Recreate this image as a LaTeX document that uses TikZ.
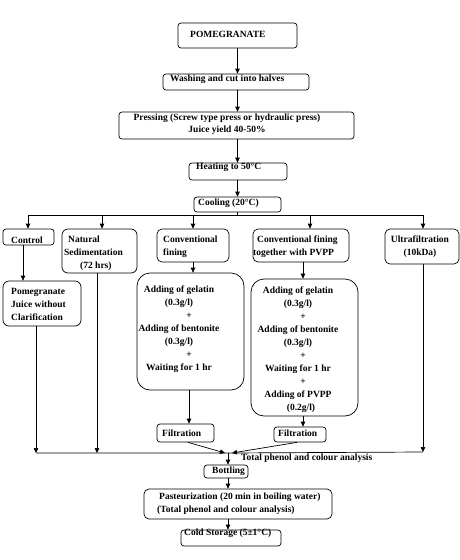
\documentclass[tikz,border=0pt]{standalone}
\usepackage{fontspec}
\setmainfont{Liberation Serif}
\usetikzlibrary{arrows.meta}
\begin{document}
\begin{tikzpicture}[x=1pt,y=-1pt,
 box/.style={draw, line width=0.7pt, rounded corners=3pt, inner sep=0pt},
 bigbox/.style={box, rounded corners=13pt},
 txt/.style={inner sep=0pt, font=\bfseries\fontsize{9.5}{13}\selectfont},
 arr/.style={line width=0.7pt, -{Triangle[length=5pt,width=4.5pt]}},
 ln/.style={line width=0.7pt}]
\useasboundingbox (0,0) rectangle (460,560);
% boxes
\node[box, minimum width=119pt, minimum height=25pt] (pom) at (237.5,35.5) {};
\node[box, minimum width=146pt, minimum height=16pt] (wash) at (236,82) {};
\node[box, minimum width=235pt, minimum height=27pt] (press) at (236.5,125.5) {};
\node[box, minimum width=98pt, minimum height=17pt] (heat) at (238,171.5) {};
\node[box, minimum width=87pt, minimum height=15pt] (cool) at (237.5,204.5) {};
\node[box, minimum width=51pt, minimum height=16pt] (ctrl) at (28.5,237) {};
\node[box, minimum width=75pt, minimum height=44pt, rounded corners=6pt] (nat) at (99.5,251) {};
\node[box, minimum width=72pt, minimum height=33pt, rounded corners=5pt] (conv) at (193,245.5) {};
\node[box, minimum width=96pt, minimum height=33pt, rounded corners=5pt] (pvpp) at (301,245.5) {};
\node[box, minimum width=74pt, minimum height=35pt, rounded corners=5pt] (ultra) at (422,246.5) {};
\node[box, minimum width=78pt, minimum height=45pt, rounded corners=6pt] (pj) at (42,303.5) {};
\node[bigbox, minimum width=107pt, minimum height=117pt] (big1) at (190.5,331.5) {};
\node[bigbox, minimum width=107pt, minimum height=137pt] (big2) at (304.5,347.5) {};
\node[box, minimum width=57pt, minimum height=18pt] (filt1) at (185.5,433) {};
\node[box, minimum width=52pt, minimum height=15pt] (filt2) at (300,434.5) {};
\node[box, minimum width=44pt, minimum height=13pt] (bott) at (226,471.5) {};
\node[box, minimum width=188pt, minimum height=30pt, rounded corners=5pt] (past) at (238,504) {};
\node[box, minimum width=100pt, minimum height=16pt] (cold) at (231,538) {};
% texts
\node[txt, anchor=west] (tpom) at (190,34) {POMEGRANATE};
\node[txt, anchor=west] (twash) at (170,79) {Washing and cut into halves};
\node[txt, align=center] (tpress) at (227,124) {Pressing (Screw type press or hydraulic press)\\[-1pt]Juice yield 40-50\%};
\node[txt, anchor=west] (theat) at (196,167) {Heating to 50°C};
\node[txt, anchor=west] (tcool) at (198,203) {Cooling (20°C)};
\node[txt, anchor=west] (tctrl) at (11,240) {Control};
\node[txt, anchor=west, align=left] (tnat) at (64,253) {\hspace{4pt}Natural\\Sedimentation\\\hspace{16pt}(72 hrs)};
\node[txt, anchor=west, align=left] (tconv) at (163,246.5) {Conventional\\fining};
\node[txt, anchor=west, align=left] (tpvpp) at (253,246.5) {\hspace{4pt}Conventional fining\\together with PVPP};
\node[txt, align=center] (tultra) at (420,246.5) {Ultrafiltration\\(10kDa)};
\node[txt, anchor=west, align=left] (tpj) at (11,304) {Pomegranate\\Juice without\\Clarification};
\node[txt, align=center] (tbig1) at (179,329.5) {Adding of gelatin\\(0.3g/l)\\\hspace{20pt}+\\Adding of bentonite\\(0.3g/l)\\\hspace{20pt}+\\Waiting for 1 hr};
\node[txt, align=center] (tbig2) at (298,349.5) {Adding of gelatin\\(0.3g/l)\\\hspace{10pt}+\\Adding of bentonite\\(0.3g/l)\\\hspace{10pt}+\\Waiting for 1 hr\hspace{14pt}\\\hspace{10pt}+\\Adding of PVPP\hspace{10pt}\\\hspace{6pt}(0.2g/l)};
\node[txt, anchor=west] (tf1) at (162,433) {Filtration};
\node[txt, anchor=west] (tf2) at (278,433) {Filtration};
\node[txt, anchor=west] (ttot) at (241,458) {Total phenol and colour analysis};
\node[txt, anchor=west] (tbott) at (212,471) {Bottling};
\node[txt, anchor=west, align=left] (tpast) at (157,503.5) {\hspace{2pt}Pasteurization (20 min in boiling water)\\(Total phenol and colour analysis)};
\node[txt, anchor=west] (tcold) at (184,533) {Cold Storage (5±1°C)};
% coordinates
\coordinate (br) at (237.5,215);
\coordinate (b1) at (28,215);
\coordinate (b2) at (102,215);
\coordinate (b3) at (193,215);
\coordinate (b4) at (310,215);
\coordinate (b5) at (423,215);
\coordinate (m) at (228,453);
\coordinate (ml) at (225,453);
\coordinate (mr) at (232,453);
\coordinate (c1) at (36,453);
\coordinate (c2) at (97,453);
\coordinate (c5) at (423,452);
% connectors
\draw[arr] (pom.south) -- (pom.south |- wash.north);
\draw[arr] (pom.south |- wash.south) -- (pom.south |- press.north);
\draw[arr] (pom.south |- press.south) -- (pom.south |- heat.north);
\draw[arr] (pom.south |- heat.south) -- (pom.south |- cool.north);
\draw[ln] (cool.south) -- (br);
\draw[ln] (b1) -- (b5);
\draw[arr] (b1) -- (b1 |- ctrl.north);
\draw[arr] (b2) -- (b2 |- nat.north);
\draw[arr] (b3) -- (b3 |- conv.north);
\draw[arr] (b4) -- (b4 |- pvpp.north);
\draw[arr] (b5) -- (b5 |- ultra.north);
\draw[arr] ([xshift=-5.5pt]ctrl.south) -- ([xshift=-5.5pt]ctrl.south |- pj.north);
\draw[arr] (conv.south) -- (conv.south |- big1.north);
\draw[arr] ([xshift=2pt]pvpp.south) -- ([xshift=2pt]pvpp.south |- big2.north);
\draw[arr] ([xshift=-1.5pt]big1.south) -- ([xshift=-1.5pt]big1.south |- filt1.north);
\draw[arr] ([xshift=-1.5pt]big2.south) -- ([xshift=-1.5pt]big2.south |- filt2.north);
\draw[arr] (c1 |- pj.south) -- (c1);
\draw[arr] (c2 |- nat.south) -- (c2);
\draw[arr] (ultra.south -| c5) -- (c5);
\draw[ln] (c1) -- (m) -- (c5);
\draw[arr] ([xshift=2.5pt]filt1.south) -- (ml);
\draw[arr] ([xshift=-3pt]filt2.south) -- (mr);
\draw[arr] (m) -- (m |- bott.north);
\draw[arr] (m |- bott.south) -- (m |- past.north);
\draw[arr] (m |- past.south) -- (m |- cold.north);
\end{tikzpicture}
\end{document}
